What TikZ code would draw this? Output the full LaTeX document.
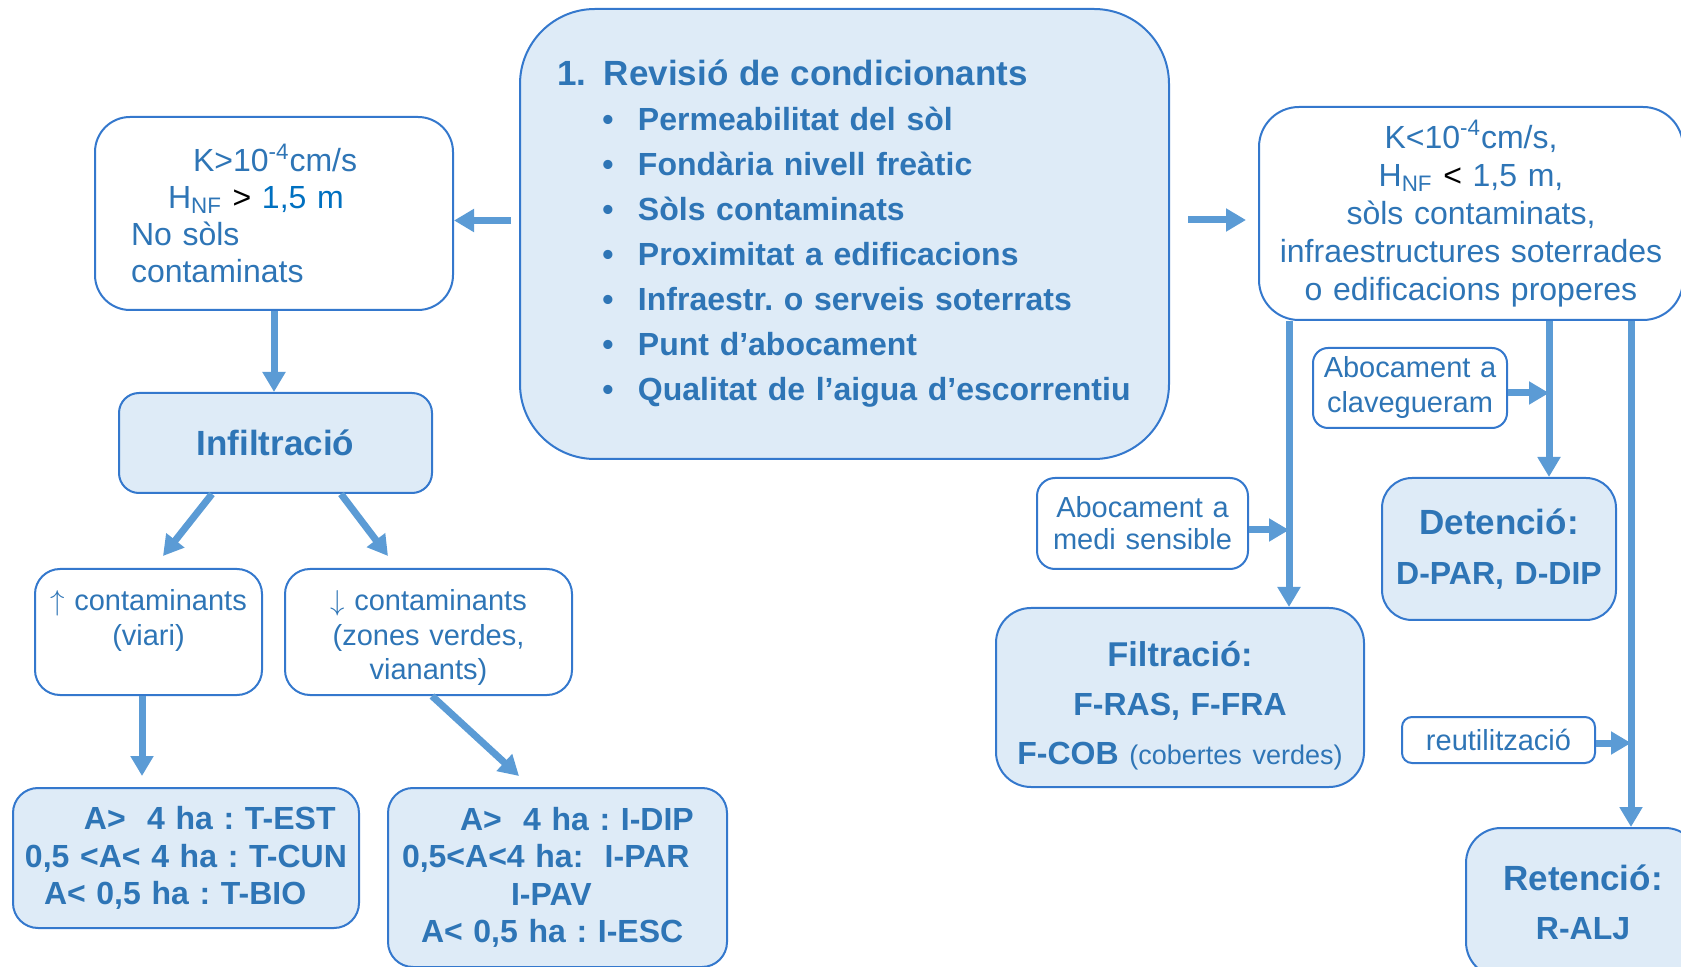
\documentclass[tikz,border=0pt]{standalone}
\usepackage{fontspec}
\setmainfont{Liberation Sans}
\usepackage{xcolor}
\usetikzlibrary{arrows.meta,calc}
\frenchspacing

\definecolor{arrowblue}{RGB}{91,155,213}
\definecolor{boxline}{RGB}{52,120,205}
\definecolor{boxfill}{RGB}{222,235,247}
\definecolor{txtblue}{RGB}{46,117,182}
\definecolor{numblue}{RGB}{0,112,192}

\begin{document}
\begin{tikzpicture}[x=0.5pt,y=-0.5pt]
\tikzset{wbox/.style={draw=boxline,line width=1pt,fill=white,text=txtblue,inner sep=0pt}}
\tikzset{bbox/.style={draw=boxline,line width=1pt,fill=boxfill,text=txtblue,inner sep=0pt}}
\tikzset{boxtext/.style={text=txtblue,inner sep=0pt,align=center}}
\tikzset{arr/.style={draw=arrowblue,line width=3.5pt,-{Triangle[length=10pt,width=11pt]}}}

\useasboundingbox (0,0) rectangle (1681,967);

\node[bbox,rounded corners=37.5pt,text width=287.5pt,inner xsep=18.5pt,minimum height=225pt,align=left,
  font=\bfseries\fontsize{16}{22.5}\selectfont] (cond) at (844.5,234)
 {{\fontsize{17.5}{22.5}\selectfont\makebox[23.5pt][l]{1.}Revisió de condicionants}\\
  \hspace*{22.7pt}\makebox[17.8pt][l]{\textbullet}Permeabilitat del sòl\\
  \hspace*{22.7pt}\makebox[17.8pt][l]{\textbullet}Fondària nivell freàtic\\
  \hspace*{22.7pt}\makebox[17.8pt][l]{\textbullet}Sòls contaminats\\
  \hspace*{22.7pt}\makebox[17.8pt][l]{\textbullet}Proximitat a edificacions\\
  \hspace*{22.7pt}\makebox[17.8pt][l]{\textbullet}Infraestr. o serveis soterrats\\
  \hspace*{22.7pt}\makebox[17.8pt][l]{\textbullet}Punt d’abocament\\
  \hspace*{22.7pt}\makebox[17.8pt][l]{\textbullet}Qualitat de l’aigua d’escorrentiu};

\node[wbox,rounded corners=17.5pt,text width=143pt,inner xsep=18pt,minimum height=96.5pt,align=left,
  font=\fontsize{16}{18.5}\selectfont] (kgt) at (274,213.5)
 {\hspace*{31pt}K>10\textsuperscript{-4}cm/s\\
  \hspace*{18.5pt}H\textsubscript{NF} {\color{black}>} {\color{numblue}1,5 m}\\
  No sòls\\
  contaminats};

\node[bbox,rounded corners=10pt,minimum width=156.5pt,minimum height=50pt,
  font=\bfseries\fontsize{17.5}{21}\selectfont] (inf) at (275.5,443) {Infiltració};

\node[wbox,rounded corners=12.5pt,minimum width=113.5pt,minimum height=63pt] (cup) at (148.5,632) {};
\node[boxtext,text width=113pt,font=\fontsize{14.5}{17.5}\selectfont] (cup-t) at ($(cup.center)+(0,5.75pt)$)
 {$\uparrow$ contaminants\\(viari)};

\node[wbox,rounded corners=12.5pt,minimum width=143.5pt,minimum height=63pt] (cdown) at (428.5,632) {};
\node[boxtext,text width=143pt,font=\fontsize{14.5}{17.3}\selectfont] (cdown-t) at ($(cdown.center)+(0,-2.75pt)$)
 {$\downarrow$ contaminants\\(zones verdes,\\vianants)};

\node[bbox,rounded corners=12.5pt,text width=161pt,inner xsep=6pt,minimum height=70pt,align=left,
  font=\bfseries\fontsize{16}{18.7}\selectfont] (tbox) at (186,858)
 {\hspace*{29.5pt}A>\ \ 4 ha : T-EST\\
  0,5 <A< 4 ha : T-CUN\\
  \hspace*{9.5pt}A< 0,5 ha : T-BIO};

\node[bbox,rounded corners=12.5pt,text width=155.5pt,inner xsep=7pt,minimum height=89.5pt,align=left,
  font=\bfseries\fontsize{16}{18.7}\selectfont] (ibox) at (557.5,877.5)
 {\hspace*{29pt}A>\ \ 4 ha : I-DIP\\
  0,5<A<4 ha:\ \ I-PAR\\
  \hspace*{54.5pt}I-PAV\\
  \hspace*{9.5pt}A< 0,5 ha : I-ESC};

\node[wbox,rounded corners=20pt,text width=212pt,minimum height=106.5pt,align=center,
  font=\fontsize{16}{19}\selectfont] (klt) at (1471,213.5)
 {K<10\textsuperscript{-4}cm/s,\\
  H\textsubscript{NF} {\color{black}<} 1,5 m,\\
  sòls contaminats,\\
  infraestructures soterrades\\
  o edificacions properes};

\node[wbox,rounded corners=7.5pt,text width=97pt,minimum height=40pt,align=center,
  font=\fontsize{14.5}{17.5}\selectfont] (clav) at (1410,388) {Abocament a\\clavegueram};
\node[wbox,rounded corners=9pt,text width=105.5pt,minimum height=45.5pt,align=center,
  font=\fontsize{14.5}{16}\selectfont] (med) at (1142.5,523.5) {Abocament a\\medi sensible};
\node[wbox,rounded corners=5pt,text width=96.5pt,minimum height=23pt,align=center,
  font=\fontsize{14.5}{17}\selectfont] (reut) at (1498.5,740) {reutilització};

\node[bbox,rounded corners=15pt,text width=117pt,minimum height=71pt,align=center,
  font=\bfseries\fontsize{16}{25}\selectfont] (det) at (1499,549)
 {{\fontsize{17.5}{25}\selectfont Detenció:}\\D-PAR, D-DIP};

\node[bbox,rounded corners=17.5pt,minimum width=184pt,minimum height=89.5pt] (filt) at (1180,697.5) {};
\node[boxtext,text width=184pt,font=\bfseries\fontsize{16}{24.5}\selectfont] (filt-t) at ($(filt.center)+(0,-4.25pt)$)
 {{\fontsize{17.2}{24.5}\selectfont Filtració:}\\
  F-RAS, F-FRA\\
  F-COB {\mdseries\fontsize{13.5}{24.5}\selectfont (cobertes verdes)}};

\node[bbox,rounded corners=17.5pt,text width=117pt,minimum height=74.5pt,align=center,
  font=\bfseries\fontsize{16}{24.5}\selectfont] (ret) at (1583,902.5)
 {{\fontsize{17.5}{24.5}\selectfont Retenció:}\\R-ALJ};

\coordinate (k1) at ([yshift=-3.5pt]kgt.east);
\coordinate (k2) at ([yshift=-3.25pt]klt.west);
\draw[arr] ($(k1 -| cond.west)+(-4pt,0)$) -- (k1);
\draw[arr] ($(k2 -| cond.east)+(9pt,0)$) -- ($(k2)+(-6pt,0)$);

\draw[arr] (kgt.south) -- (kgt.south |- inf.north);
\draw[arr] ($(inf.south)+(-31.75pt,0)$) -- ($(cup.north)+(7.25pt,6pt)$);
\draw[arr] ($(inf.south)+(32.75pt,0)$) -- ($(cdown.north)+(-20.25pt,6pt)$);
\draw[arr] ($(cup.south)+(-3.25pt,0)$) -- ($(cup.south |- tbox.north)+(-3.25pt,5.5pt)$);
\draw[arr] ($(cdown.south)+(1.75pt,0)$) -- ($(ibox.north)+(-19.25pt,5.5pt)$);

\coordinate (v1) at ([xshift=-91pt]klt.south);
\coordinate (v2) at ([xshift=39pt]klt.south);
\coordinate (v3) at ([xshift=80pt]klt.south);
\draw[arr] (v1) -- (v1 |- filt.north);
\draw[arr] (v2) -- (v2 |- det.north);
\draw[arr] (v3) -- (v3 |- ret.north);

\coordinate (m1) at ([yshift=-3.25pt]med.east);
\coordinate (c1) at ([yshift=-2.5pt]clav.east);
\coordinate (r1) at ([yshift=-1.5pt]reut.east);
\draw[arr] (m1) -- (m1 -| v1);
\draw[arr] (c1) -- (c1 -| v2);
\draw[arr] (r1) -- (r1 -| v3);

\end{tikzpicture}
\end{document}
